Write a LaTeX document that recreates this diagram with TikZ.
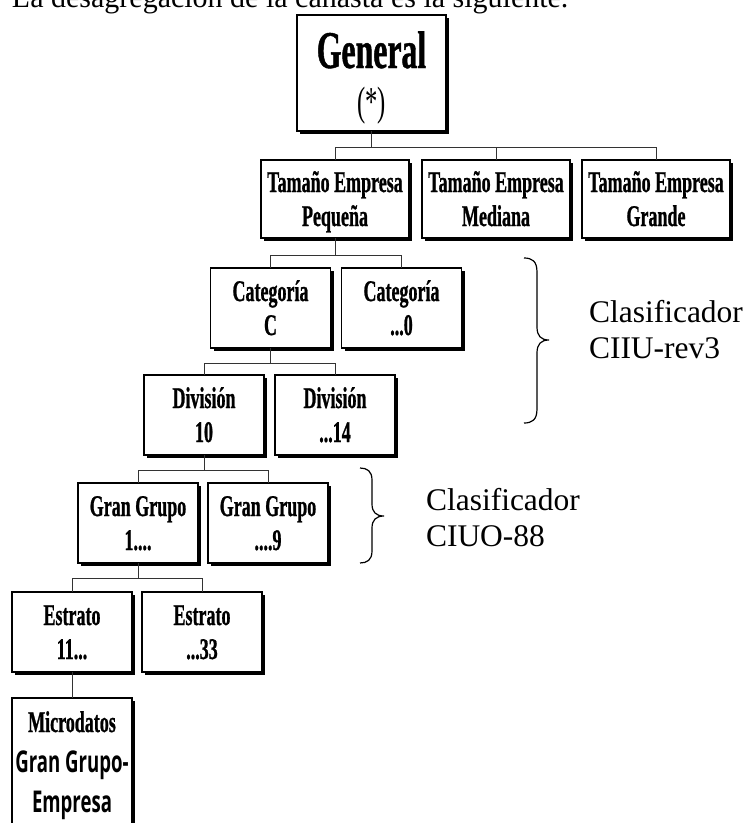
\documentclass[tikz,border=0pt]{standalone}
\usepackage{fontspec}
\setmainfont{Liberation Serif}
\newfontfamily\boxfont[FakeStretch=0.6, BoldFeatures={FakeBold=0.8}]{Liberation Serif}
\newfontfamily\comicfont[FakeStretch=0.62]{Open Sans}
\usetikzlibrary{shadows}
% first baseline placed 7pt above the node centre
\newcommand{\twoline}[2]{\raisebox{7pt}[0pt][0pt]{\begin{tabular}[t]{@{}c@{}}#1\\#2\end{tabular}}}
\begin{document}
\begin{tikzpicture}[x=1pt,y=-1pt,
  box/.style={draw=black, line width=1.6pt, fill=white, inner sep=0pt, outer sep=0pt,
    minimum height=80pt, minimum width=120pt,
    font=\boxfont\bfseries\fontsize{30}{34}\selectfont,
    drop shadow={shadow xshift=3pt, shadow yshift=-3pt, fill=black, opacity=1}},
  conn/.style={draw=black!80, line width=0.9pt},
  brace/.style={draw=black, line width=1.2pt},
  plain/.style={inner sep=0pt, outer sep=0pt, font=\fontsize{31.5}{36}\selectfont}]
\useasboundingbox (0,0) rectangle (744,823);

% title
\node[plain, anchor=base west, font=\fontsize{30}{36}\selectfont] (title) at (12,7) {La desagregación de la canasta es la siguiente.};

% boxes
\node[box, minimum width=149pt, minimum height=116pt] (gen) at (371.5,73)
  {\raisebox{5pt}[0pt][0pt]{\fontsize{41}{47}\selectfont\begin{tabular}[t]{@{}c@{}}{\fontsize{53}{53}\selectfont General}\\\mdseries(*)\end{tabular}}};

\node[box, minimum width=148pt, minimum height=78pt] (pq) at (335,199) {\twoline{Tamaño Empresa}{Pequeña}};
\node[box, minimum width=148pt, minimum height=78pt] (md) at (496,199) {\twoline{Tamaño Empresa}{Mediana}};
\node[box, minimum width=148pt, minimum height=78pt] (gr) at (656,199) {\twoline{Tamaño Empresa}{Grande}};

\node[box] (catc) at (270.5,308) {\twoline{Categoría}{C}};
\node[box] (cat0) at (401.5,308) {\twoline{Categoría}{...0}};
\node[box] (div10) at (204,415) {\twoline{División}{10}};
\node[box] (div14) at (335,415) {\twoline{División}{...14}};
\node[box] (gg1) at (138,523) {\twoline{Gran Grupo}{1....}};
\node[box] (gg9) at (268,523) {\twoline{Gran Grupo}{....9}};
\node[box] (e11) at (72,632) {\twoline{Estrato}{11...}};
\node[box] (e33) at (202,632) {\twoline{Estrato}{...33}};
\node[box, minimum height=150pt] (mic) at (72,773)
  {\raisebox{41pt}[0pt][0pt]{\fontsize{30}{40}\selectfont\begin{tabular}[t]{@{}c@{}}Microdatos\\{\comicfont\bfseries Gran Grupo-}\\{\comicfont\bfseries Empresa}\end{tabular}}};

% connectors
\draw[conn] (gen.south) -- ++(0,16) coordinate (j1);
\draw[conn] (j1) -| (pq.north);
\draw[conn] (j1) -| (md.north);
\draw[conn] (j1) -| (gr.north);

\draw[conn] (pq.south) -- ++(0,17) coordinate (j2);
\draw[conn] (j2) -| (catc.north);
\draw[conn] (j2) -| (cat0.north);

\draw[conn] (catc.south) -- ++(0,15) coordinate (j3);
\draw[conn] (j3) -| (div10.north);
\draw[conn] (j3) -| (div14.north);

\draw[conn] (div10.south) -- ++(0,15) coordinate (j4);
\draw[conn] (j4) -| (gg1.north);
\draw[conn] (j4) -| (gg9.north);

\draw[conn] (gg1.south) -- ++(0,15) coordinate (j5);
\draw[conn] (j5) -| (e11.north);
\draw[conn] (j5) -| (e33.north);

\draw[conn] (e11.south) -- (mic.north);

% braces
\draw[brace] (524,258) .. controls (532,258) and (537,261) .. (537,272) -- (537,327)
  .. controls (537,336) and (541,340) .. (549,340)
  .. controls (541,340) and (537,344) .. (537,353) -- (537,409)
  .. controls (537,420) and (532,423) .. (524,423);
\draw[brace] (360,468) .. controls (367,468) and (372,471) .. (372,480) -- (372,504)
  .. controls (372,512) and (376,516) .. (384,516)
  .. controls (376,516) and (372,520) .. (372,528) -- (372,551)
  .. controls (372,560) and (367,563) .. (360,563);

% side labels
\node[plain, anchor=base west] (cl1) at (589,322) {\begin{tabular}[t]{@{}l@{}}Clasificador\\CIIU-rev3\end{tabular}};
\node[plain, anchor=base west] (cl2) at (426,510) {\begin{tabular}[t]{@{}l@{}}Clasificador\\CIUO-88\end{tabular}};
\end{tikzpicture}
\end{document}
